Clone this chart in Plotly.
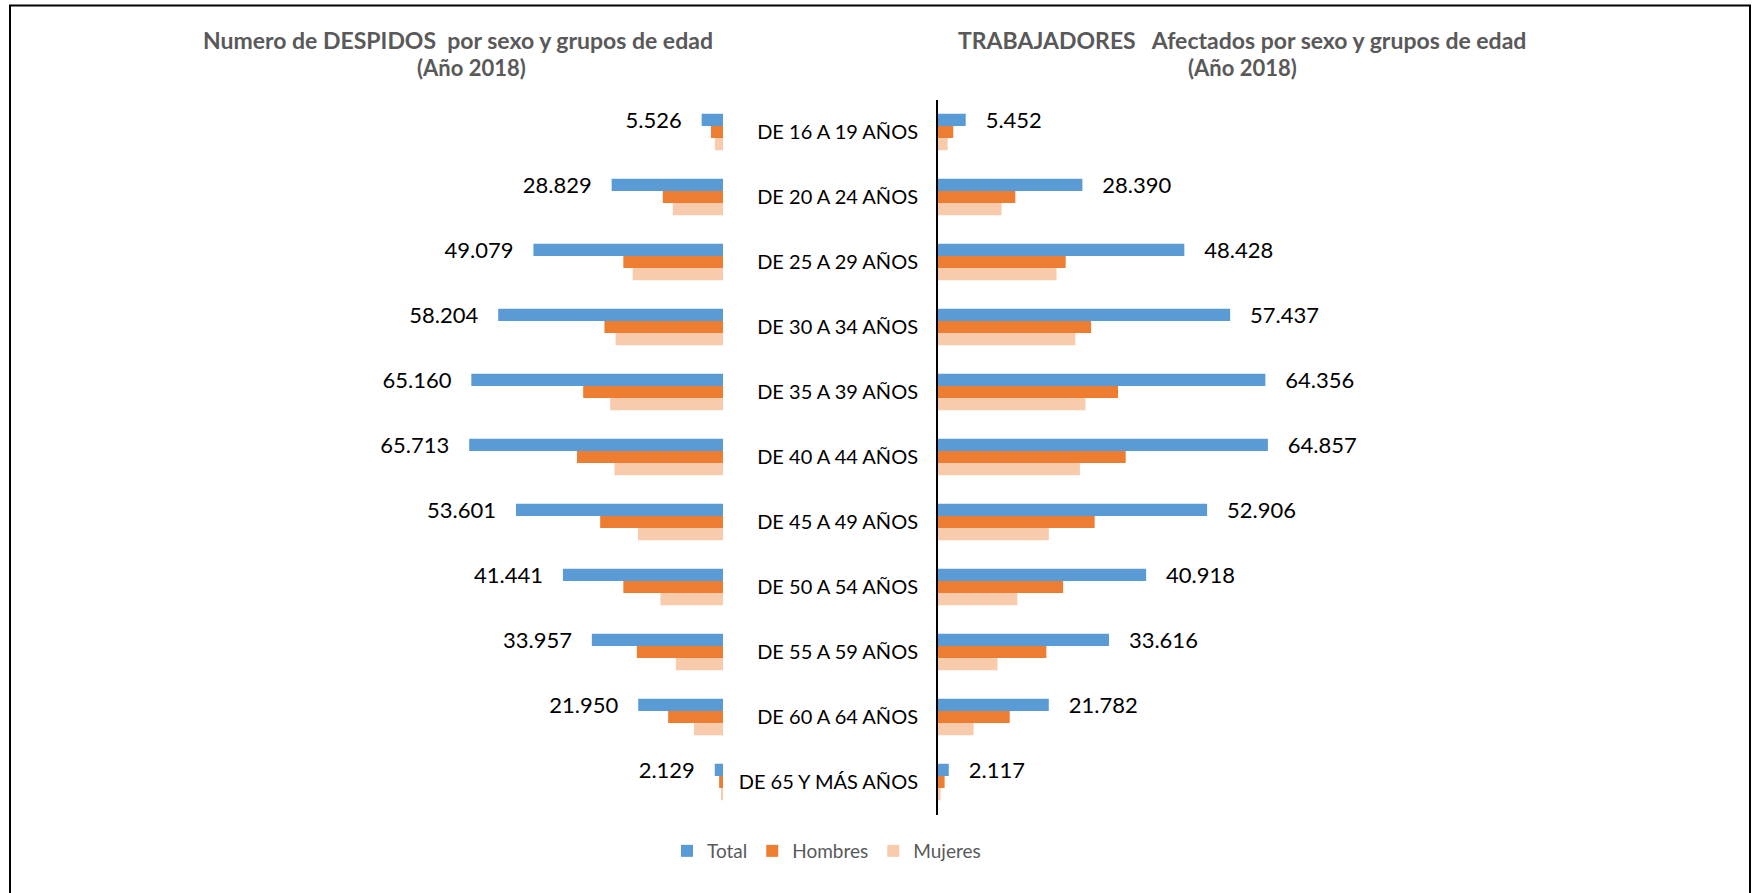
import plotly.graph_objects as go

categories = ["DE 16 A 19 AÑOS", "DE 20 A 24 AÑOS", "DE 25 A 29 AÑOS", "DE 30 A 34 AÑOS",
              "DE 35 A 39 AÑOS", "DE 40 A 44 AÑOS", "DE 45 A 49 AÑOS", "DE 50 A 54 AÑOS",
              "DE 55 A 59 AÑOS", "DE 60 A 64 AÑOS", "DE 65 Y MÁS AÑOS"]

# Despidos (left)
desp_total = [5526, 28829, 49079, 58204, 65160, 65713, 53601, 41441, 33957, 21950, 2129]
desp_hombres = [3100, 15600, 25800, 30700, 36200, 37800, 31800, 25800, 22300, 14200, 1000]
desp_mujeres = [2100, 13000, 23400, 27800, 29200, 28100, 22000, 16200, 12200, 7500, 500]

# Trabajadores afectados (right)
trab_total = [5452, 28390, 48428, 57437, 64356, 64857, 52906, 40918, 33616, 21782, 2117]
trab_hombres = [3000, 15200, 25100, 30100, 35400, 36900, 30800, 24600, 21300, 14100, 1300]
trab_mujeres = [1900, 12500, 23300, 27000, 29000, 27900, 21800, 15600, 11700, 7000, 500]

series_names = ["Total", "Hombres", "Mujeres"]
colors = ["#5B9BD5", "#ED7D31", "#F8CBAD"]

W, H = 1755, 893
FONT = "Lato"
NB = "\u00a0"


def fmt(v):
    return f"{v:,}".replace(",", ".")


fig = go.Figure()

left = [desp_total, desp_hombres, desp_mujeres]
right = [trab_total, trab_hombres, trab_mujeres]

for i, (name, vals) in enumerate(zip(series_names, left)):
    kw = {}
    if i == 0:
        kw = dict(text=[fmt(v) + NB * 3 for v in vals], textposition="outside",
                  textfont=dict(family=FONT, size=22, color="#000000"), constraintext="none",
                  cliponaxis=False)
    fig.add_trace(go.Bar(y=categories, x=vals, orientation="h", name=name,
                         marker=dict(color=colors[i], line=dict(width=0)),
                         xaxis="x", yaxis="y", legendgroup=name, showlegend=True,
                         hoverinfo="x+y+name", **kw))

for i, (name, vals) in enumerate(zip(series_names, right)):
    kw = {}
    if i == 0:
        kw = dict(text=[NB * 3 + fmt(v) for v in vals], textposition="outside",
                  textfont=dict(family=FONT, size=22, color="#000000"), constraintext="none",
                  cliponaxis=False)
    fig.add_trace(go.Bar(y=categories, x=vals, orientation="h", name=name,
                         marker=dict(color=colors[i], line=dict(width=0)),
                         xaxis="x2", yaxis="y2", legendgroup=name, showlegend=False,
                         hoverinfo="x+y+name", **kw))

y_dom = [1 - 814.5 / H, 1 - 99.5 / H]

fig.update_layout(
    width=W, height=H,
    margin=dict(l=0, r=0, t=0, b=0),
    paper_bgcolor="white", plot_bgcolor="white",
    barmode="group", bargap=0.437, bargroupgap=0,
    font=dict(family=FONT, color="#000000"),
    xaxis=dict(domain=[105 / W, 723 / W], range=[160000, 0], visible=False,
               anchor="y", fixedrange=True),
    yaxis=dict(domain=y_dom, anchor="x", type="category", categoryorder="array",
               categoryarray=categories, range=[10.5, -0.5], showticklabels=False,
               showline=False, showgrid=False, zeroline=False, ticks=""),
    xaxis2=dict(domain=[938 / W, 1701 / W], range=[0, 150000], visible=False,
                anchor="y2"),
    yaxis2=dict(domain=y_dom, anchor="x2", type="category", categoryorder="array",
                categoryarray=categories, range=[10.5, -0.5], showticklabels=True,
                showline=True, linecolor="#000000", linewidth=2, showgrid=False,
                zeroline=False, ticks="", ticklabelstandoff=14,
                tickfont=dict(family=FONT, size=20, color="#000000")),
    legend=dict(orientation="h", x=667 / W, xanchor="left", y=1 - 851 / H, yanchor="middle",
                font=dict(family=FONT, size=19, color="#595959"), traceorder="normal",
                bgcolor="rgba(0,0,0,0)"),
    showlegend=True,
    annotations=[
        dict(text="<b>Numero de DESPIDOS" + NB + " por sexo y grupos de edad</b>",
             x=458 / W, y=1 - 40 / H, xref="paper", yref="paper", showarrow=False,
             xanchor="center", yanchor="middle",
             font=dict(family=FONT, size=23, color="#595959")),
        dict(text="<b>(Año 2018)</b>", x=471 / W, y=1 - 67 / H, xref="paper", yref="paper",
             showarrow=False, xanchor="center", yanchor="middle",
             font=dict(family=FONT, size=22, color="#595959")),
        dict(text="<b>TRABAJADORES" + NB * 2 + " Afectados por sexo y grupos de edad</b>",
             x=1242 / W, y=1 - 40 / H, xref="paper", yref="paper", showarrow=False,
             xanchor="center", yanchor="middle",
             font=dict(family=FONT, size=23, color="#595959")),
        dict(text="<b>(Año 2018)</b>", x=1242 / W, y=1 - 67 / H, xref="paper", yref="paper",
             showarrow=False, xanchor="center", yanchor="middle",
             font=dict(family=FONT, size=22, color="#595959")),
    ],
    shapes=[
        dict(type="rect", xref="paper", yref="paper", x0=10 / W, x1=1750 / W,
             y0=-0.05, y1=1 - 5.5 / H, line=dict(color="#000000", width=2),
             fillcolor="rgba(0,0,0,0)", layer="above"),
    ],
)

fig.write_html("out.html", config={"displayModeBar": False},
               post_script="document.body.style.margin='0';")
